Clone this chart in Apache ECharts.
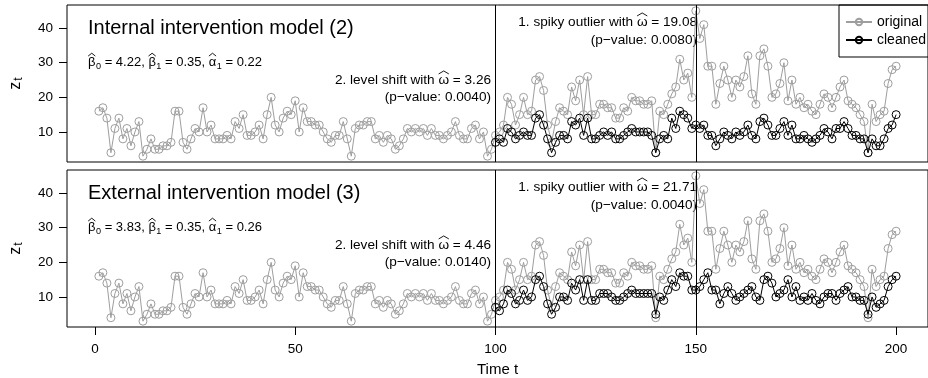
<!DOCTYPE html>
<html><head><meta charset="utf-8">
<script src="https://cdn.jsdelivr.net/npm/echarts@6/dist/echarts.min.js"></script>
<style>html,body{margin:0;padding:0;background:#fff}#c{width:928px;height:378px}</style>
</head><body><div id="c"></div>
<script>
// ---------------- data ----------------
const original = [16,17,14,4,11,14,8,11,6,10,
13,3,5,8,5,5,6,6,7,16,
16,7,5,8,11,10,17,10,12,8,
8,8,9,8,13,11,15,9,9,10,
12,8,15,20,12,10,14,16,15,19,
10,17,13,13,12,12,10,8,7,9,
9,13,8,3,11,12,12,13,13,8,
9,7,9,8,5,6,8,11,10,11,
10,11,9,11,9,9,8,9,10,13,
9,8,8,11,12,8,10,3,5,9,
10,12,20,18,12,15,20,15,16,25,
26,22,12,7,13,17,16,15,23,19,
25,15,26,15,15,18,18,17,17,14,
14,17,16,20,19,19,18,18,19,4,
16,15,18,21,23,31,25,27,20,45,
37,41,29,29,18,24,29,25,20,25,
23,26,32,21,18,32,34,29,20,21,
24,30,19,25,18,20,17,18,16,15,
18,21,20,17,20,23,25,19,18,17,
15,13,4,18,13,15,16,24,28,29];
const cleanedStart = 100;
const cleanedInternal = [7,8,7,11,10,8,9,10,9,9,
14,15,12,8,4,7,9,9,8,13,
12,14,9,14,8,8,9,10,9,10,
8,8,9,10,11,10,10,10,10,9,
4,8,9,8,14,11,16,15,14,11,
12,11,12,9,9,6,8,10,9,8,
10,9,10,12,9,8,13,14,12,9,
9,11,13,9,12,8,8,9,8,7,
8,9,11,10,8,11,11,13,11,9,
9,8,8,4,8,6,6,8,11,12,
15];
const cleanedExternal = [7,6,8,12,11,8,9,12,9,10,
15,16,13,8,5,7,10,10,9,14,
12,15,9,15,9,9,11,11,11,10,
9,9,10,11,12,11,11,11,11,11,
5,10,9,12,15,13,17,16,16,12,
12,13,15,17,12,12,8,11,13,11,
9,10,11,12,13,10,9,15,16,14,
10,11,12,15,10,13,9,10,9,11,
9,8,10,11,11,9,11,12,13,10,
10,9,9,5,10,7,8,9,13,15,
16];
const interventionTimes = [100, 150];
const xTicks = [0, 50, 100, 150, 200];
const yTicks = [10, 20, 30, 40];
const panelTitles = ['Internal intervention model (2)', 'External intervention model (3)'];
const paramValues = [['4.22', '0.35', '0.22'], ['3.83', '0.35', '0.26']];
const spikyValues = [['19.08', '0.0080'], ['21.71', '0.0040']];
const levelValues = [['3.26', '0.0040'], ['4.46', '0.0140']];

// ---------------- chart ----------------
const FONT = '"Liberation Sans", Arial, Helvetica, sans-serif';
const GRAY = '#9E9E9E';
const X_MIN = -6.96, X_MAX = 207.96;
const Y_MIN = 1.32, Y_MAX = 46.68;
const grids = [
  {left: 63, top: 5, width: 873, height: 157},
  {left: 63, top: 170, width: 873, height: 157}
];
const origData = original.map((v, i) => [i + 1, v]);
const cleanData = arr => arr.map((v, i) => [cleanedStart + i, v]);

function lineSeries(name, data, color, gi, withMark) {
  const s = {
    name, type: 'line', data, xAxisIndex: gi, yAxisIndex: gi,
    symbol: 'circle', symbolSize: 8, showSymbol: true, clip: true,
    itemStyle: {color: 'rgba(0,0,0,0)', borderColor: color, borderWidth: 1},
    lineStyle: {color, width: 1},
    emphasis: {disabled: true}, z: color === GRAY ? 2 : 3
  };
  if (withMark) {
    s.markLine = {silent: true, symbol: ['none', 'none'], label: {show: false},
      lineStyle: {color: '#000', type: 'solid', width: 1},
      data: interventionTimes.map(t => ({xAxis: t}))};
  }
  return s;
}

const yAxisCommon = gi => ({
  type: 'value', gridIndex: gi, min: Y_MIN, max: Y_MAX,
  splitLine: {show: false},
  axisLine: {show: false, onZero: false},
  axisTick: {show: true, length: 8, lineStyle: {color: '#000'}, customValues: yTicks},
  axisLabel: {show: true, customValues: yTicks, margin: 14, fontSize: 13.5, fontFamily: FONT, color: '#000'},
  name: '{z|z}{t|t}', nameLocation: 'middle', nameGap: 42, nameRotate: 90,
  nameTextStyle: {rich: {z: {fontSize: 16, fontFamily: FONT, color: '#000'}, t: {fontSize: 12, fontFamily: FONT, color: '#000', padding: [6, 0, 0, 1]}}}
});

// --- math-like text (hats and subscripts) built from plain text pieces ---
const mctx = document.createElement('canvas').getContext('2d');
function measure(t, size) { mctx.font = size + 'px ' + FONT; return mctx.measureText(t).width; }
function mathText(tokens, x, y, size, align, out) {
  const subSize = size * 0.7;
  const widths = tokens.map(tk => typeof tk === 'string' ? measure(tk, size)
    : measure(tk.g, size) + (tk.sub ? measure(tk.sub, subSize) + 0.5 : 0));
  const total = widths.reduce((a, b) => a + b, 0);
  let cx = align === 'right' ? x - total : x;
  const baseline = y + 0.31 * size;
  tokens.forEach((tk, i) => {
    if (typeof tk === 'string') {
      out.push({type: 'text', x: cx, y, silent: true, style: {text: tk, font: size + 'px ' + FONT, fill: '#000', verticalAlign: 'middle'}});
    } else {
      const gw = measure(tk.g, size);
      out.push({type: 'text', x: cx, y, silent: true, style: {text: tk.g, font: size + 'px ' + FONT, fill: '#000', verticalAlign: 'middle'}});
      const apex = baseline - 0.74 * size - 3.2, hb = apex + 0.22 * size, mid = cx + gw / 2, hw = gw * 0.48;
      out.push({type: 'polyline', silent: true, shape: {points: [[mid - hw, hb], [mid, apex], [mid + hw, hb]]}, style: {stroke: '#000', lineWidth: 0.9, fill: null}});
      if (tk.sub) {
        const sb = baseline + 0.22 * size;
        out.push({type: 'text', x: cx + gw + 0.5, y: sb - 0.31 * subSize, silent: true, style: {text: tk.sub, font: subSize + 'px ' + FONT, fill: '#000', verticalAlign: 'middle'}});
      }
    }
    cx += widths[i];
  });
}

const texts = [];
[0, 1].forEach(gi => {
  const off = gi * 165;
  texts.push({type: 'text', x: 88, y: 28 + off, style: {text: panelTitles[gi], font: '20px ' + FONT, fill: '#000', verticalAlign: 'middle'}});
  const p = paramValues[gi];
  mathText([{g: 'β', sub: '0'}, ' = ' + p[0] + ', ', {g: 'β', sub: '1'}, ' = ' + p[1] + ', ', {g: 'α', sub: '1'}, ' = ' + p[2]], 88, 62 + off, 13, 'left', texts);
  const s = spikyValues[gi];
  mathText(['1. spiky outlier with ', {g: 'ω'}, ' = ' + s[0]], 697, 22 + off, 13.6, 'right', texts);
  texts.push({type: 'text', x: 697, y: 40 + off, style: {text: '(p−value: ' + s[1] + ')', font: '13.6px ' + FONT, fill: '#000', align: 'right', verticalAlign: 'middle'}});
  const l = levelValues[gi];
  mathText(['2. level shift with ', {g: 'ω'}, ' = ' + l[0]], 491, 80 + off, 13.6, 'right', texts);
  texts.push({type: 'text', x: 491, y: 97 + off, style: {text: '(p−value: ' + l[1] + ')', font: '13.6px ' + FONT, fill: '#000', align: 'right', verticalAlign: 'middle'}});
});

const option = {
  animation: false,
  backgroundColor: '#fff',
  grid: grids.map(g => Object.assign({show: true, borderColor: '#000', borderWidth: 1, backgroundColor: 'transparent'}, g)),
  xAxis: [
    {type: 'value', gridIndex: 0, min: X_MIN, max: X_MAX, axisLine: {show: false, onZero: false}, axisTick: {show: false}, axisLabel: {show: false}, splitLine: {show: false}},
    {type: 'value', gridIndex: 1, min: X_MIN, max: X_MAX, splitLine: {show: false},
     axisLine: {show: false, onZero: false},
     axisTick: {show: true, length: 8, lineStyle: {color: '#000'}, customValues: xTicks},
     axisLabel: {show: true, customValues: xTicks, margin: 15, fontSize: 13.5, fontFamily: FONT, color: '#000'},
     name: 'Time t', nameLocation: 'middle', nameGap: 35, nameTextStyle: {fontSize: 15, fontFamily: FONT, color: '#000'}}
  ],
  yAxis: [yAxisCommon(0), yAxisCommon(1)],
  legend: {
    data: ['original', 'cleaned'], orient: 'vertical', left: 839, top: 5,
    itemWidth: 26, itemHeight: 8, itemGap: 4,
    borderColor: '#000', borderWidth: 1, borderRadius: 0, padding: [10, 40, 10, 6],
    textStyle: {fontSize: 14, fontFamily: FONT, color: '#000'}
  },
  series: [
    lineSeries('original', origData, GRAY, 0, true),
    lineSeries('cleaned', cleanData(cleanedInternal), '#000', 0, false),
    lineSeries('original', origData, GRAY, 1, true),
    lineSeries('cleaned', cleanData(cleanedExternal), '#000', 1, false)
  ],
  graphic: texts
};
const chart = echarts.init(document.getElementById('c'), null, {renderer: 'canvas', width: 928, height: 378});
chart.setOption(option);
</script>
</body></html>
